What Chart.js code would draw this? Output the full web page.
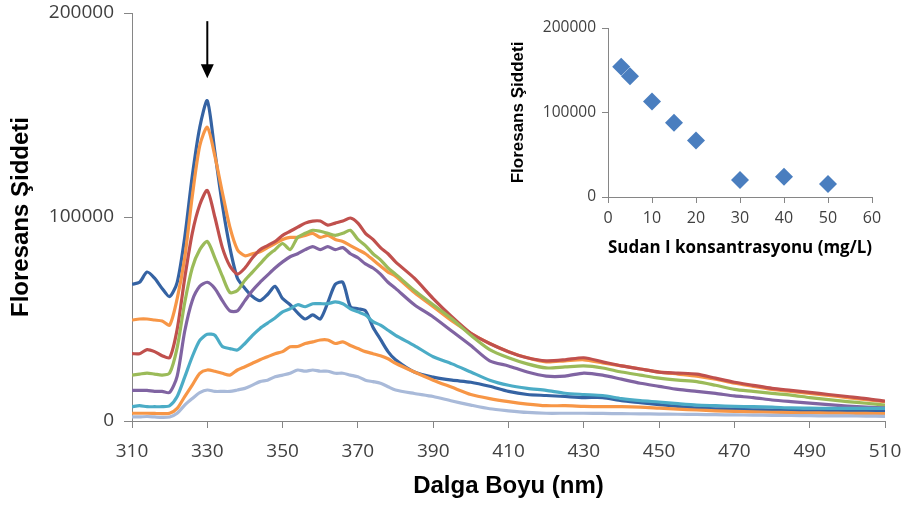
<!DOCTYPE html>
<html>
<head>
<meta charset="utf-8">
<script src="https://cdn.jsdelivr.net/npm/chart.js@4/dist/chart.umd.min.js"></script>
<style>
  html, body { margin: 0; padding: 0; background: #ffffff; }
  #wrap { position: relative; width: 906px; height: 506px; }
  #main { position: absolute; left: 0; top: 0; }
  #inset { position: absolute; left: 500px; top: 10px; }
</style>
</head>
<body>
<div id="wrap">
  <canvas id="main" width="906" height="506"></canvas>
  <canvas id="inset" width="400" height="260"></canvas>
</div>
<script>
// ---- Main spectra data ----
const wavelengths = [310,312,314,316,318,320,322,324,326,328,330,332,334,336,338,340,342,344,346,348,350,352,354,356,358,360,362,364,366,368,370,372,374,376,378,380,
  385,390,395,400,405,410,415,420,425,430,435,440,445,450,455,460,465,470,475,480,485,490,495,500,505,510];

const seriesBlue = [67000,68000,73000,70000,65000,61000,68000,90000,120000,144000,157000,132000,106000,85000,70000,65000,61000,59000,62000,66000,60000,57000,53000,50000,52000,50000,58000,67000,68000,56000,55000,54000,46000,40000,34000,30000,
  24000,21500,20000,19000,17000,14500,13000,12500,12000,11500,11500,10000,9000,8000,7200,6400,6000,5800,5500,5400,5300,5000,5000,4800,4700,4600];
const seriesOrange1 = [49500,50000,50000,49500,49000,47000,60000,80000,110000,135000,144000,130000,112000,95000,84000,81000,82000,83000,85000,87000,89000,90000,90000,91000,92000,90000,91000,89000,88000,86000,84000,82000,79000,76000,73000,71000,
  63000,56000,49000,43000,38000,34000,31000,29000,29500,30000,28500,27000,25500,24000,23000,22000,20500,18500,17000,15500,14500,13500,12500,11500,10500,9500];
const seriesRed = [33000,33000,35000,34000,32000,31000,45000,70000,92000,106000,113000,100000,85000,76000,72000,75000,80000,84000,86000,88000,91000,93000,95000,97000,98000,98000,96000,97000,98000,99500,97000,92000,89000,85000,82000,78000,
  70000,60000,51000,43000,38000,34000,31000,29500,30000,31000,29000,27000,25500,24000,23500,23000,21000,19000,17500,16000,15000,14000,13000,12000,11000,9700];
const seriesGreen = [22500,23000,23500,23000,22500,23500,36000,58000,75000,84000,88000,80000,71000,63000,64000,69000,73000,77000,81000,84000,87000,84000,90000,92000,93500,93000,92000,91000,92000,93500,89000,86000,82000,79000,75000,72000,
  64000,57000,50000,42000,35000,31000,28000,26000,26500,27000,26000,24000,22500,21000,20000,19300,17500,15500,14500,13500,12700,11500,10500,9500,8700,7800];
const seriesPurple = [15000,15000,15000,14500,14500,14000,22000,44000,59000,66000,68000,65000,59000,54000,54000,59000,64000,68000,71500,75000,78000,80500,82000,84000,85500,84000,85500,84000,85000,82000,80000,77000,75000,72000,68000,65000,
  57000,51000,44000,37000,29500,27000,24000,22000,22000,23500,22500,20500,18500,17000,15500,14500,13500,12300,11500,10300,9500,8800,8000,7300,6800,6400];
const seriesCyan = [7000,7500,7000,7000,7000,7500,12000,21500,31500,39500,42500,42000,36500,35500,34800,38000,42000,45400,48000,50500,53500,55000,57000,56000,57500,57500,57500,58400,57500,55000,53500,52000,48700,47000,44500,42000,
  37000,31500,28000,24000,20000,17500,16000,15000,13600,13000,12500,11000,10000,9300,8500,7800,7500,7200,7000,6800,6400,6300,6200,6200,6200,6200];
const seriesOrange2 = [3800,3800,3800,3700,3600,3800,6200,12000,17600,23400,25000,24400,23400,22500,25000,26600,28300,30000,31500,33000,34000,36400,36500,38000,38800,39700,39700,38000,38800,37000,35500,34000,33000,32000,30500,28300,
  24000,20000,16500,13000,11000,9500,8300,7500,7500,7200,7000,7000,6800,6300,5800,5400,5000,4700,4500,4300,4100,4000,3900,3800,3700,3600];
const seriesLight = [2000,2000,2200,2000,1800,2000,3800,7800,11000,13900,15200,14500,14500,14500,15200,16000,17600,19300,20000,21700,22500,23400,25000,24400,25000,24400,24400,23400,23400,22500,21700,20000,19300,18500,16800,15200,
  13500,12000,9800,7800,6000,5000,4200,3800,3800,3800,3700,3600,3500,3400,3300,3200,3100,3000,2900,2800,2700,2600,2500,2500,2400,2300];

const xTicks = [310,330,350,370,390,410,430,450,470,490,510];
const yTicks = [0,100000,200000];
const arrowWavelength = 330;
const arrowFrom = 196000;
const arrowTo = 168000;

// ---- Inset data ----
const concentrations = [3,5,10,15,20,30,40,50];
const intensities = [154000,143000,113000,88000,67000,20000,24000,15500];
const insetXTicks = [0,10,20,30,40,50,60];
const insetYTicks = [0,100000,200000];

const seriesList = [seriesBlue, seriesOrange1, seriesRed, seriesGreen, seriesPurple, seriesCyan, seriesOrange2, seriesLight];
const colors = ['#3563A3','#F79646','#C0504D','#9BBB59','#8064A2','#4BACC6','#F79646','#A9BAD9'];

const axisColor = '#868686';
const tickFont = { family: 'Open Sans', size: 19 };
const titleFont = { family: 'Liberation Sans', size: 24, weight: 'bold' };

const datasets = seriesList.map((s, i) => ({
  data: s.map((v, k) => ({ x: wavelengths[k], y: v })),
  borderColor: colors[i],
  borderWidth: 3.2,
  pointRadius: 0,
  tension: 0.25,
  fill: false,
  order: seriesList.length - i
}));

const arrowPlugin = {
  id: 'arrow',
  afterDatasetsDraw(chart) {
    const ctx = chart.ctx;
    const xs = chart.scales.x, ys = chart.scales.y;
    const x = xs.getPixelForValue(arrowWavelength);
    const y1 = ys.getPixelForValue(arrowFrom);
    const y2 = ys.getPixelForValue(arrowTo);
    ctx.save();
    ctx.strokeStyle = '#000';
    ctx.fillStyle = '#000';
    ctx.lineWidth = 2;
    ctx.beginPath();
    ctx.moveTo(x, y1);
    ctx.lineTo(x, y2 - 12);
    ctx.stroke();
    ctx.beginPath();
    ctx.moveTo(x - 6.5, y2 - 14);
    ctx.lineTo(x + 6.5, y2 - 14);
    ctx.lineTo(x, y2);
    ctx.closePath();
    ctx.fill();
    ctx.restore();
  }
};

function fixVertical(w) {
  return (s) => { s.width = w; s.paddingTop = 0; s.paddingBottom = 0; };
}
function fixHorizontal(h) {
  return (s) => { s.height = h; s.paddingLeft = 0; s.paddingRight = 0; };
}

new Chart(document.getElementById('main'), {
  type: 'line',
  data: { datasets },
  plugins: [arrowPlugin],
  options: {
    responsive: false,
    animation: false,
    events: [],
    layout: { padding: { left: 0, right: 21, top: 13, bottom: 0 } },
    plugins: { legend: { display: false }, tooltip: { enabled: false } },
    scales: {
      x: {
        type: 'linear',
        min: 310, max: 510,
        afterBuildTicks: (s) => { s.ticks = xTicks.map(v => ({ value: v })); },
        afterFit: fixHorizontal(85),
        ticks: { font: tickFont, color: '#404040', padding: 12, maxRotation: 0 },
        grid: { drawOnChartArea: false, drawTicks: true, tickLength: 7, color: axisColor },
        border: { display: true, color: axisColor, width: 1 },
        title: { display: true, text: 'Dalga Boyu (nm)', font: titleFont, color: '#000', padding: { top: 0, bottom: 5 } }
      },
      y: {
        min: 0, max: 200000,
        afterBuildTicks: (s) => { s.ticks = yTicks.map(v => ({ value: v })); },
        afterFit: fixVertical(132),
        ticks: { font: tickFont, color: '#404040', padding: 10, callback: (v) => String(v) },
        grid: { drawOnChartArea: false, drawTicks: true, tickLength: 8, color: axisColor },
        border: { display: true, color: axisColor, width: 1 },
        title: { display: true, text: 'Floresans Şiddeti', font: titleFont, color: '#000', padding: { top: 7, bottom: 0 } }
      }
    }
  }
});

new Chart(document.getElementById('inset'), {
  type: 'scatter',
  data: {
    datasets: [{
      data: concentrations.map((c, k) => ({ x: c, y: intensities[k] })),
      backgroundColor: '#4A7EBF',
      borderColor: '#4A7EBF',
      borderWidth: 0,
      pointStyle: 'rectRot',
      pointRadius: 9
    }]
  },
  options: {
    responsive: false,
    animation: false,
    events: [],
    layout: { padding: { left: 0, right: 28, top: 18, bottom: 0 } },
    plugins: { legend: { display: false }, tooltip: { enabled: false } },
    scales: {
      x: {
        type: 'linear',
        min: 0, max: 60,
        afterBuildTicks: (s) => { s.ticks = insetXTicks.map(v => ({ value: v })); },
        afterFit: fixHorizontal(73),
        ticks: { font: { family: 'Open Sans', size: 16 }, color: '#404040', padding: 6, maxRotation: 0 },
        grid: { drawOnChartArea: false, drawTicks: true, tickLength: 6, color: axisColor },
        border: { display: true, color: axisColor, width: 1 },
        title: { display: true, text: 'Sudan I konsantrasyonu (mg/L)', font: { family: 'Open Sans', size: 18.5, weight: 'bold' }, color: '#000', padding: { top: 0, bottom: 11 } }
      },
      y: {
        min: 0, max: 200000,
        afterBuildTicks: (s) => { s.ticks = insetYTicks.map(v => ({ value: v })); },
        afterFit: fixVertical(108),
        ticks: { font: { family: 'Open Sans', size: 15.5 }, color: '#404040', padding: 6, callback: (v) => String(v) },
        grid: { drawOnChartArea: false, drawTicks: true, tickLength: 6, color: axisColor },
        border: { display: true, color: axisColor, width: 1 },
        title: { display: true, text: 'Floresans Şiddeti', font: { family: 'Liberation Sans', size: 17, weight: 'bold' }, color: '#000', padding: { top: 8, bottom: 0 } }
      }
    }
  }
});
</script>
</body>
</html>
